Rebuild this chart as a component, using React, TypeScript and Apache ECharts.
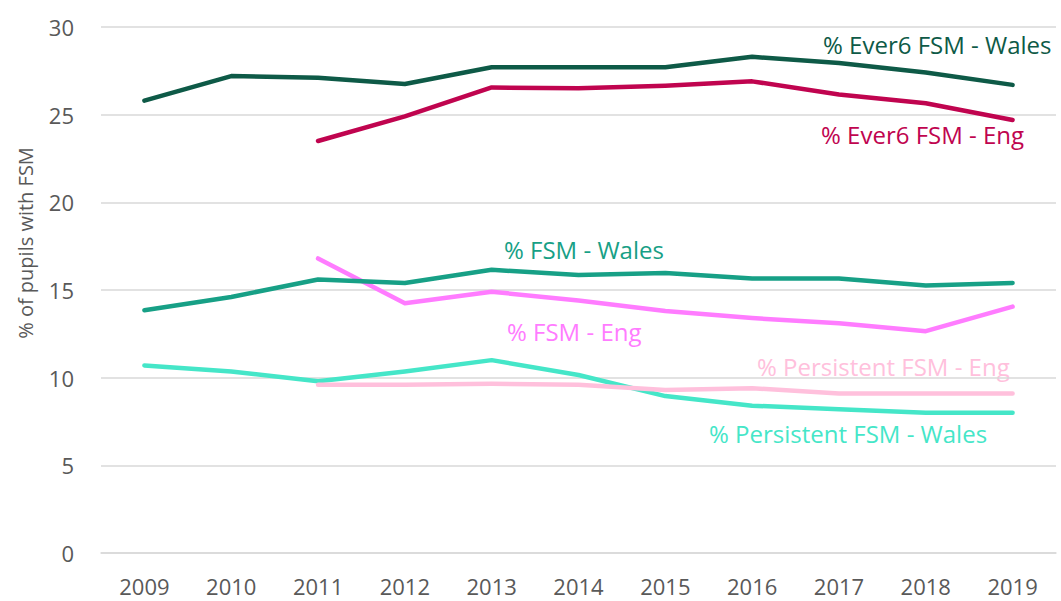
import React, { useEffect, useRef } from "react";
import * as echarts from "echarts";

const years = ["2009", "2010", "2011", "2012", "2013", "2014", "2015", "2016", "2017", "2018", "2019"];
const ever6Wales = [25.8, 27.2, 27.1, 26.75, 27.7, 27.7, 27.7, 28.3, 27.95, 27.4, 26.7];
const ever6Eng = [null, null, 23.5, 24.9, 26.55, 26.5, 26.65, 26.9, 26.15, 25.65, 24.7];
const fsmWales = [13.85, 14.6, 15.6, 15.4, 16.15, 15.85, 15.97, 15.65, 15.65, 15.25, 15.4];
const fsmEng = [null, null, 16.8, 14.25, 14.9, 14.4, 13.8, 13.4, 13.1, 12.65, 14.05];
const persEng = [null, null, 9.6, 9.6, 9.65, 9.6, 9.3, 9.4, 9.1, 9.1, 9.1];
const persWales = [10.7, 10.35, 9.8, 10.35, 11.0, 10.15, 8.95, 8.4, 8.2, 8.0, 8.0];

const seriesNames = [
  "% Ever6 FSM - Wales",
  "% Ever6 FSM - Eng",
  "% FSM - Wales",
  "% FSM - Eng",
  "% Persistent FSM - Eng",
  "% Persistent FSM - Wales",
];
const seriesData = [ever6Wales, ever6Eng, fsmWales, fsmEng, persEng, persWales];
const colors = ["#0E5A47", "#C0044F", "#17A086", "#FF7CFF", "#FFC0DC", "#45E6C8"];
const labelPos = [
  [823, 32],
  [821, 122],
  [504, 237],
  [507, 319],
  [757, 354],
  [709, 421],
];

const FONT = "'Open Sans', sans-serif";

export default function App() {
  const ref = useRef<HTMLDivElement>(null);
  useEffect(() => {
    const chart = echarts.init(ref.current!, null, { renderer: "svg" });
    chart.setOption({
      animation: false,
      backgroundColor: "#ffffff",
      grid: { left: 101, right: 5, top: 27, bottom: 48 },
      xAxis: {
        type: "category",
        data: years,
        boundaryGap: true,
        axisLine: { show: true, lineStyle: { color: "#D9D9D9", width: 1.5 } },
        axisTick: { show: false },
        axisLabel: { color: "#595959", fontSize: 22, fontFamily: FONT, margin: 22 },
      },
      yAxis: {
        type: "value",
        min: 0,
        max: 30,
        interval: 5,
        axisLine: { show: false },
        axisTick: { show: false },
        axisLabel: { color: "#595959", fontSize: 22, fontFamily: FONT, margin: 27 },
        splitLine: { lineStyle: { color: "#D9D9D9", width: 1.5 } },
      },
      series: seriesNames.map((n, i) => ({
        name: n,
        type: "line",
        data: seriesData[i],
        symbol: "none",
        lineStyle: { color: colors[i], width: 4.5, cap: "round", join: "round" },
        z: 10 - i,
      })),
      graphic: [
        {
          type: "text",
          x: 25,
          y: 243,
          rotation: Math.PI / 2,
          style: {
            text: "% of pupils with FSM",
            fill: "#595959",
            font: `20px ${FONT}`,
            align: "center",
            verticalAlign: "middle",
          },
        },
        ...seriesNames.map((n, i) => ({
          type: "text",
          x: labelPos[i][0],
          y: labelPos[i][1],
          style: {
            text: n,
            fill: colors[i],
            font: `24px ${FONT}`,
            align: "left",
            verticalAlign: "top",
          },
        })),
      ],
    });
    return () => chart.dispose();
  }, []);
  return <div ref={ref} style={{ position: "fixed", left: 0, top: 0, width: 1061, height: 601 }} />;
}
